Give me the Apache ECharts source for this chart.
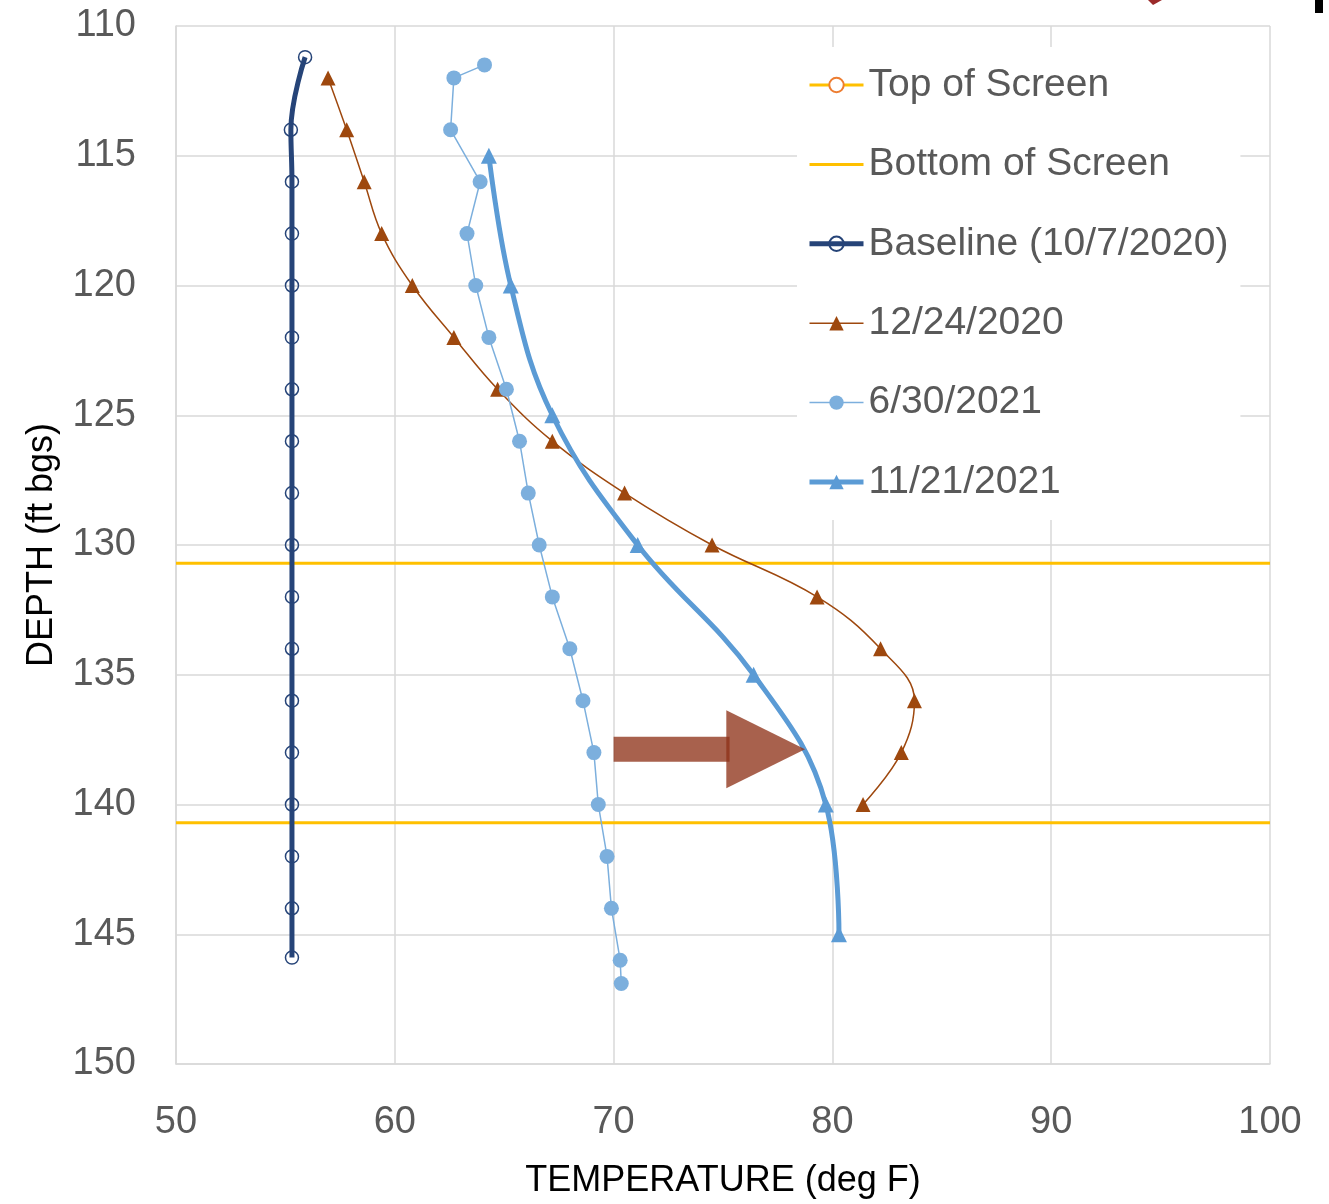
<!DOCTYPE html>
<html><head><meta charset="utf-8">
<script src="https://cdn.jsdelivr.net/npm/echarts@6/dist/echarts.min.js"></script>
<style>html,body{margin:0;padding:0;background:#fff}#c{width:1329px;height:1204px}</style>
</head><body><div id="c"></div>
<script>
// ---- data ----
const seriesNames = ['Top of Screen', 'Bottom of Screen', 'Baseline (10/7/2020)', '12/24/2020', '6/30/2021', '11/21/2021'];
const xTicks = [50, 60, 70, 80, 90, 100];
const yTicks = [110, 115, 120, 125, 130, 135, 140, 145, 150];

const screenTopDepth = 130.7;
const screenBottomDepth = 140.7;
const screenTemps = [50, 100];

const baselineTemp  = [55.9, 55.25, 55.3, 55.3, 55.3, 55.3, 55.3, 55.3, 55.3, 55.3, 55.3, 55.3, 55.3, 55.3, 55.3, 55.3, 55.3, 55.3];
const baselineDepth = [111.2, 114, 116, 118, 120, 122, 124, 126, 128, 130, 132, 134, 136, 138, 140, 142, 144, 145.9];

const dec2020Temp  = [56.95, 57.8, 58.6, 59.4, 60.8, 62.7, 64.7, 67.2, 70.5, 74.5, 79.3, 82.2, 83.75, 83.15, 81.4];
const dec2020Depth = [112, 114, 116, 118, 120, 122, 124, 126, 128, 130, 132, 134, 136, 138, 140];

const jun2021Temp  = [64.1, 62.7, 62.55, 63.9, 63.3, 63.7, 64.3, 65.1, 65.7, 66.1, 66.6, 67.2, 68.0, 68.6, 69.1, 69.3, 69.7, 69.9, 70.3, 70.35];
const jun2021Depth = [111.5, 112, 114, 116, 118, 120, 122, 124, 126, 128, 130, 132, 134, 136, 138, 140, 142, 144, 146, 146.9];

const nov2021Temp  = [64.3, 65.3, 67.2, 71.1, 76.4, 79.7, 80.3];
const nov2021Depth = [115, 120, 125, 130, 135, 140, 145];

// annotation arrow (data coordinates)
const arrowSpec = { from: 70, headBase: 75.15, tip: 78.75, depth: 137.87, shaftHalf: 0.48, headHalf: 1.5 };

// ---- build ----
const zip = (xs, ys) => xs.map((x, i) => [x, ys[i]]);
const FONT = "'Liberation Sans', Arial, sans-serif";

const chart = echarts.init(document.getElementById('c'), null, { renderer: 'canvas' });
const option = {
  animation: false,
  backgroundColor: '#fff',
  grid: { left: 176, right: 59, top: 26, bottom: 136, containLabel: false },
  xAxis: {
    type: 'value', min: xTicks[0], max: xTicks[xTicks.length - 1], interval: 10,
    name: 'TEMPERATURE (deg F)', nameLocation: 'middle', nameGap: 99,
    nameTextStyle: { fontFamily: FONT, fontSize: 36, color: '#000' },
    axisLine: { show: true, lineStyle: { color: '#d9d9d9', width: 1.5 } },
    axisTick: { show: false },
    axisLabel: { fontFamily: FONT, fontSize: 38, color: '#595959', margin: 40 },
    splitLine: { show: true, lineStyle: { color: '#d9d9d9', width: 1.5 } }
  },
  yAxis: {
    type: 'value', inverse: true, min: yTicks[0], max: yTicks[yTicks.length - 1], interval: 5,
    name: 'DEPTH (ft bgs)', nameLocation: 'middle', nameGap: 116, nameRotate: 90,
    nameTextStyle: { fontFamily: FONT, fontSize: 36, color: '#000' },
    axisLine: { show: true, lineStyle: { color: '#d9d9d9', width: 1.5 } },
    axisTick: { show: false },
    axisLabel: { fontFamily: FONT, fontSize: 38, color: '#595959', margin: 40 },
    splitLine: { show: true, lineStyle: { color: '#d9d9d9', width: 1.5 } }
  },
  legend: {
    orient: 'vertical', left: 797, top: 47,
    backgroundColor: '#fff', padding: [15, 12, 15, 10],
    itemWidth: 54, itemHeight: 18, itemGap: 33.4,
    textStyle: { fontFamily: FONT, fontSize: 39, color: '#595959', lineHeight: 46 },
    data: [
      { name: seriesNames[0], lineStyle: { width: 3 } },
      { name: seriesNames[1], lineStyle: { width: 3 }, itemStyle: { color: 'rgba(0,0,0,0)', borderWidth: 0 } },
      { name: seriesNames[2], lineStyle: { width: 5 } },
      { name: seriesNames[3], lineStyle: { width: 1.5 } },
      { name: seriesNames[4], lineStyle: { width: 1.5 } },
      { name: seriesNames[5], lineStyle: { width: 5 } }
    ]
  },
  series: [
    {
      name: seriesNames[0], type: 'line', data: zip(screenTemps, [screenTopDepth, screenTopDepth]),
      symbol: 'emptyCircle', symbolSize: 12, showSymbol: false,
      lineStyle: { color: '#FFC000', width: 3 }, itemStyle: { color: '#ED7D31' }
    },
    {
      name: seriesNames[1], type: 'line', data: zip(screenTemps, [screenBottomDepth, screenBottomDepth]),
      symbol: 'none',
      lineStyle: { color: '#FFC000', width: 3 }, itemStyle: { color: '#FFC000' }
    },
    {
      name: seriesNames[2], type: 'line', data: zip(baselineTemp, baselineDepth),
      smooth: 0.4, symbol: 'circle', symbolSize: 13,
      lineStyle: { color: '#264478', width: 5 },
      itemStyle: { color: 'rgba(255,255,255,0)', borderColor: '#264478', borderWidth: 1.5 }
    },
    {
      name: seriesNames[3], type: 'line', data: zip(dec2020Temp, dec2020Depth),
      smooth: 0.4, symbol: 'triangle', symbolSize: 15,
      lineStyle: { color: '#9E480E', width: 1.5 },
      itemStyle: { color: '#9E480E' }
    },
    {
      name: seriesNames[4], type: 'line', data: zip(jun2021Temp, jun2021Depth),
      smooth: false, symbol: 'circle', symbolSize: 15,
      lineStyle: { color: '#7CAFDD', width: 1.5 },
      itemStyle: { color: '#7CAFDD' }
    },
    {
      name: seriesNames[5], type: 'line', data: zip(nov2021Temp, nov2021Depth),
      smooth: 0.4, symbol: 'triangle', symbolSize: 16,
      lineStyle: { color: '#5B9BD5', width: 5 },
      itemStyle: { color: '#5B9BD5' }
    }
  ]
};
chart.setOption(option);

// arrow annotation positioned via the chart's scales
const P = (t, d) => chart.convertToPixel({ gridIndex: 0 }, [t, d]);
const a = arrowSpec;
const s1 = P(a.from, a.depth - a.shaftHalf), s2 = P(a.headBase + 0.15, a.depth + a.shaftHalf);
const h1 = P(a.headBase, a.depth - a.headHalf), h2 = P(a.headBase, a.depth + a.headHalf), ht = P(a.tip, a.depth);
const arrowFill = 'rgba(142,49,23,0.77)';
chart.setOption({
  graphic: [
    { type: 'rect', z: 100, shape: { x: s1[0], y: s1[1], width: s2[0] - s1[0], height: s2[1] - s1[1] }, style: { fill: arrowFill } },
    { type: 'polygon', z: 100, shape: { points: [h1, ht, h2] }, style: { fill: arrowFill } },
    { type: 'rect', z: 100, shape: { x: 1315, y: 0, width: 8, height: 13 }, style: { fill: '#000' } },
    { type: 'polygon', z: 100, shape: { points: [[1148, 0], [1162, 0], [1153, 5]] }, style: { fill: '#9b2a2a' } }
  ]
});
</script>
</body></html>
